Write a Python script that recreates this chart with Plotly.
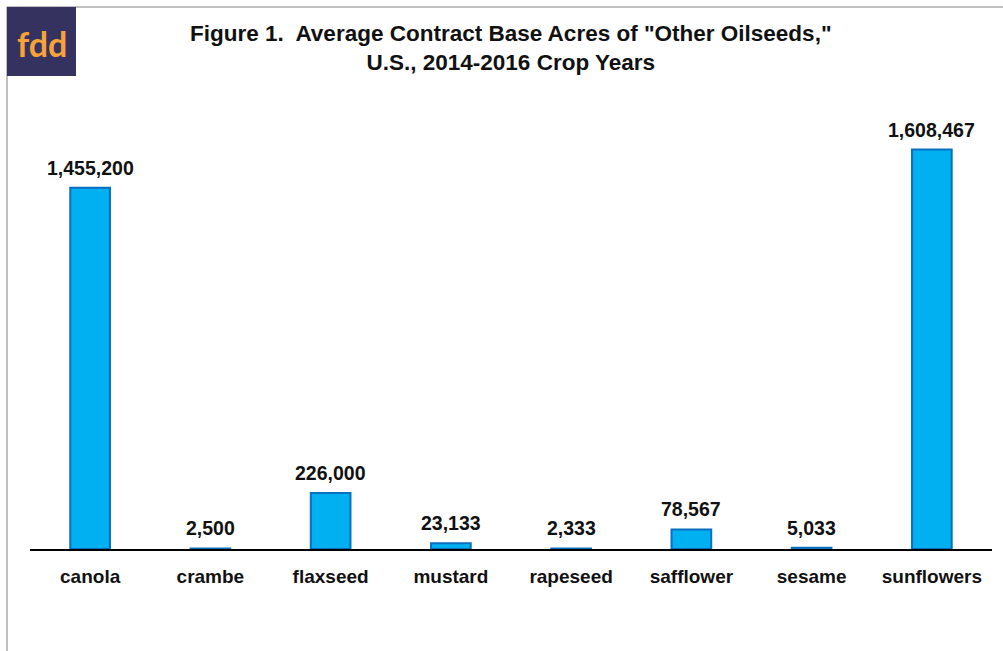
import plotly.graph_objects as go

categories = ["canola", "crambe", "flaxseed", "mustard", "rapeseed", "safflower", "sesame", "sunflowers"]
acres = [1455200, 2500, 226000, 23133, 2333, 78567, 5033, 1608467]

W, H = 1003, 651
ml, mr, mt, mb = 30, 11, 102, 102
pw, ph = W - ml - mr, H - mt - mb

def px(x):
    return (x - ml) / pw

def py(y):
    return (H - mb - y) / ph

FONT = "Arial, Liberation Sans"

fig = go.Figure(go.Bar(
    x=categories, y=acres,
    width=0.33,
    marker=dict(color="#00b0f0", line=dict(color="#0a6fbf", width=2)),
    hoverinfo="x+y",
))

labels = [dict(x=c, y=v, xref="x", yref="y", text=f"{v:,}", showarrow=False,
               xanchor="center", yanchor="bottom", yshift=7,
               font=dict(family=FONT, size=19.5, color="#111", weight="bold"))
          for c, v in zip(categories, acres)]

fig.update_layout(
    width=W, height=H,
    margin=dict(l=ml, r=mr, t=mt, b=mb),
    paper_bgcolor="white", plot_bgcolor="white",
    showlegend=False,
    xaxis=dict(showline=True, linecolor="black", linewidth=2, showgrid=False,
               ticks="", ticklabelstandoff=9,
               tickfont=dict(family=FONT, size=19, color="#111", weight="bold")),
    yaxis=dict(range=[0, 1.8e6], visible=False, showgrid=False, zeroline=False),
    shapes=[
        dict(type="line", xref="paper", yref="paper", x0=px(7), x1=px(1003), y0=py(7), y1=py(7),
             line=dict(color="#c0c0c0", width=2)),
        dict(type="line", xref="paper", yref="paper", x0=px(7), x1=px(7), y0=py(7), y1=py(651),
             line=dict(color="#c0c0c0", width=2)),
        dict(type="rect", xref="paper", yref="paper", x0=px(7), x1=px(76), y0=py(7), y1=py(76),
             fillcolor="#35325f", line=dict(width=0)),
    ],
    annotations=labels + [
        dict(text="fdd", xref="paper", yref="paper", x=px(41.5), y=py(43), xanchor="center", yanchor="middle",
             showarrow=False, font=dict(family="Lato, Arial", size=34, color="#f7a33a", weight="bold")),
        dict(text="Figure 1.  Average Contract Base Acres of \"Other Oilseeds,\"<br>U.S., 2014-2016 Crop Years",
             xref="paper", yref="paper", x=px(511), y=py(48), xanchor="center", yanchor="middle",
             showarrow=False, font=dict(family=FONT, size=22.5, color="#111", weight="bold")),
    ],
)

fig.write_html("out.html")
